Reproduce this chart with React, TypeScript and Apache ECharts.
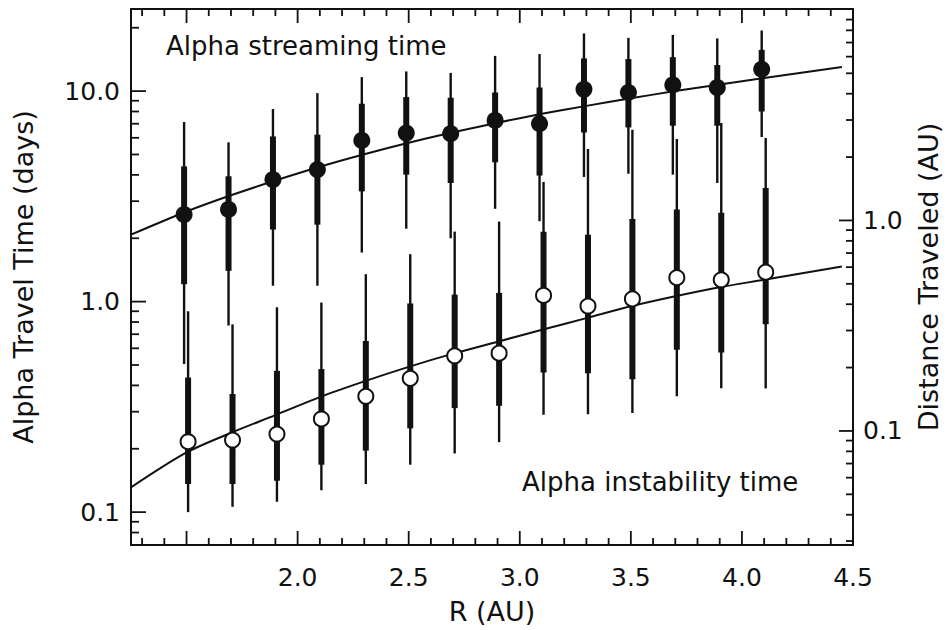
import React, { useEffect, useRef } from 'react';
import * as echarts from 'echarts';

// ---------- data ----------
const R = [1.5, 1.7, 1.9, 2.1, 2.3, 2.5, 2.7, 2.9, 3.1, 3.3, 3.5, 3.7, 3.9, 4.1];

// Alpha streaming time (filled circles), days
const streamMed = [2.59, 2.74, 3.8, 4.24, 5.83, 6.32, 6.28, 7.26, 7.0, 10.2, 9.85, 10.7, 10.4, 12.7];
const streamThinHi = [7.13, 5.71, 8.22, 9.78, 11.65, 12.4, 12.2, 14.7, 15.0, 18.8, 17.9, 18.5, 17.8, 19.4];
const streamThickHi = [4.39, 3.94, 6.09, 6.21, 8.71, 9.37, 9.3, 9.85, 10.4, 14.3, 14.2, 14.5, 13.3, 15.7];
const streamThickLo = [1.21, 1.4, 2.2, 2.32, 3.34, 4.01, 3.66, 4.59, 3.97, 6.36, 6.72, 6.85, 6.85, 8.0];
const streamThinLo = [0.505, 0.77, 1.19, 1.19, 1.71, 2.22, 2.0, 2.76, 2.41, 3.91, 4.05, 4.01, 3.66, 6.05];

// Alpha instability time (open circles), days
const instMed = [0.216, 0.22, 0.235, 0.277, 0.355, 0.432, 0.553, 0.569, 1.07, 0.953, 1.03, 1.3, 1.27, 1.38];
const instThinHi = [0.9, 0.78, 0.94, 0.99, 1.35, 1.68, 2.15, 2.4, 3.7, 5.31, 6.56, 5.92, 7.05, 5.99];
const instThickHi = [0.436, 0.364, 0.469, 0.478, 0.65, 0.98, 1.08, 1.1, 2.15, 2.08, 2.47, 2.74, 2.64, 3.47];
const instThickLo = [0.136, 0.136, 0.141, 0.168, 0.196, 0.25, 0.312, 0.32, 0.46, 0.457, 0.428, 0.59, 0.573, 0.78];
const instThinLo = [0.1, 0.106, 0.112, 0.127, 0.136, 0.168, 0.19, 0.215, 0.29, 0.292, 0.296, 0.355, 0.388, 0.387];

// model curves
const curveR = [1.25, 1.5, 1.7, 1.9, 2.1, 2.3, 2.5, 2.7, 2.9, 3.1, 3.3, 3.5, 3.7, 3.9, 4.1, 4.45];
const streamCurve = [2.08, 2.68, 3.2, 3.76, 4.37, 5.01, 5.68, 6.37, 7.08, 7.8, 8.51, 9.25, 10.0, 10.76, 11.53, 13.03];
const instCurve = [0.131, 0.192, 0.238, 0.289, 0.352, 0.418, 0.49, 0.566, 0.645, 0.735, 0.835, 0.95, 1.06, 1.17, 1.27, 1.47];

// axes
const X_MIN = 1.25;
const X_MAX = 4.5;
const Y_MIN = 0.0698;
const Y_MAX = 24.55;
const DAYS_PER_AU = 2.43; // right axis: distance = time / DAYS_PER_AU
const xLabels = [2.0, 2.5, 3.0, 3.5, 4.0, 4.5];
const leftLabels = [0.1, 1, 10];
const rightLabels = [0.1, 1];
const xMajorTicks = [1.5, 2.0, 2.5, 3.0, 3.5, 4.0, 4.5];
const xMinorTicks = [1.3, 1.4, 1.6, 1.7, 1.8, 1.9, 2.1, 2.2, 2.3, 2.4, 2.6, 2.7, 2.8, 2.9, 3.1, 3.2, 3.3, 3.4, 3.6, 3.7, 3.8, 3.9, 4.1, 4.2, 4.3, 4.4];
const leftMajorTicks = [0.1, 1, 10];
const leftMinorTicks = [0.08, 0.09, 0.2, 0.3, 0.4, 0.5, 0.6, 0.7, 0.8, 0.9, 2, 3, 4, 5, 6, 7, 8, 9, 20];
const rightMajorTicks = [0.1, 1];
const rightMinorTicks = [0.03, 0.04, 0.05, 0.06, 0.07, 0.08, 0.09, 0.2, 0.3, 0.4, 0.5, 0.6, 0.7, 0.8, 0.9, 2, 3, 4, 5, 6, 7, 8, 9];

const FILLED_DX = -0.011;
const OPEN_DX = 0.007;

const INK = '#111111';
const FONT = 'DejaVu Sans';
const MAJOR_LEN = 14;
const MINOR_LEN = 7;

const near = (list: number[], v: number) => list.some((l) => Math.abs(l - v) < 1e-6 * Math.max(1, Math.abs(l)));

function xTickSeries(values: number[], len: number) {
  return {
    type: 'custom',
    silent: true,
    z: 5,
    xAxisIndex: 0,
    yAxisIndex: 0,
    data: values.map((v) => [v, Y_MIN, len]),
    renderItem: (_p: any, api: any) => {
      const v = api.value(0);
      const l = api.value(2);
      const b = api.coord([v, Y_MIN]);
      const t = api.coord([v, Y_MAX]);
      return {
        type: 'group',
        children: [
          { type: 'line', shape: { x1: b[0], y1: b[1], x2: b[0], y2: b[1] - l }, style: { stroke: INK, lineWidth: 1.8 } },
          { type: 'line', shape: { x1: t[0], y1: t[1], x2: t[0], y2: t[1] + l }, style: { stroke: INK, lineWidth: 1.8 } },
        ],
      };
    },
  };
}

function yTickSeries(values: number[], len: number, axisIndex: number) {
  const xAt = axisIndex === 0 ? X_MIN : X_MAX;
  const dir = axisIndex === 0 ? 1 : -1;
  return {
    type: 'custom',
    silent: true,
    z: 5,
    xAxisIndex: 0,
    yAxisIndex: axisIndex,
    data: values.map((v) => [xAt, v, len]),
    renderItem: (_p: any, api: any) => {
      const v = api.value(1);
      const l = api.value(2);
      const p = api.coord([xAt, v]);
      return {
        type: 'line',
        shape: { x1: p[0], y1: p[1], x2: p[0] + dir * l, y2: p[1] },
        style: { stroke: INK, lineWidth: 1.8 },
      };
    },
  };
}

function barSeries(dx: number, lo: number[], qlo: number[], qhi: number[], hi: number[]) {
  return {
    type: 'custom',
    silent: true,
    z: 2,
    data: R.map((r, i) => [r + dx, lo[i], qlo[i], qhi[i], hi[i]]),
    encode: { x: 0, y: [1, 2, 3, 4] },
    renderItem: (_p: any, api: any) => {
      const x = api.value(0);
      const pLo = api.coord([x, api.value(1)]);
      const pQlo = api.coord([x, api.value(2)]);
      const pQhi = api.coord([x, api.value(3)]);
      const pHi = api.coord([x, api.value(4)]);
      return {
        type: 'group',
        children: [
          { type: 'line', shape: { x1: pLo[0], y1: pLo[1], x2: pHi[0], y2: pHi[1] }, style: { stroke: INK, lineWidth: 2.4 } },
          { type: 'rect', shape: { x: pQhi[0] - 3, y: pQhi[1], width: 6, height: pQlo[1] - pQhi[1] }, style: { fill: INK } },
        ],
      };
    },
  };
}

export default function App() {
  const ref = useRef<HTMLDivElement>(null);

  useEffect(() => {
    document.body.style.margin = '0';
    if (!ref.current) return;
    const chart = echarts.init(ref.current, undefined, { renderer: 'svg' });

    const axisLine = { show: true, onZero: false, lineStyle: { color: INK, width: 2 } };
    const labelStyle = { color: INK, fontFamily: FONT, fontSize: 25 };
    const nameStyle = { color: INK, fontFamily: FONT, fontSize: 27 };

    chart.setOption({
      animation: false,
      backgroundColor: '#ffffff',
      textStyle: { fontFamily: FONT },
      grid: { left: 131, right: 93, top: 9, bottom: 84, containLabel: false },
      xAxis: [
        {
          type: 'value',
          position: 'bottom',
          min: X_MIN,
          max: X_MAX,
          interval: 0.25,
          axisLine,
          axisTick: { show: false },
          splitLine: { show: false },
          axisLabel: {
            ...labelStyle,
            margin: 20,
            formatter: (v: number) => (near(xLabels, v) ? v.toFixed(1) : ''),
          },
          name: 'R (AU)',
          nameLocation: 'middle',
          nameGap: 53,
          nameTextStyle: nameStyle,
        },
        {
          type: 'value',
          position: 'top',
          min: X_MIN,
          max: X_MAX,
          interval: 0.25,
          axisLine,
          axisTick: { show: false },
          splitLine: { show: false },
          axisLabel: { show: false },
        },
      ],
      yAxis: [
        {
          type: 'log',
          logBase: 10,
          position: 'left',
          min: Y_MIN,
          max: Y_MAX,
          axisLine,
          axisTick: { show: false },
          minorTick: { show: false },
          splitLine: { show: false },
          axisLabel: {
            ...labelStyle,
            margin: 11,
            formatter: (v: number) => (near(leftLabels, v) ? v.toFixed(1) : ''),
          },
          name: 'Alpha Travel Time (days)',
          nameLocation: 'middle',
          nameRotate: 90,
          nameGap: 94,
          nameTextStyle: nameStyle,
        },
        {
          type: 'log',
          logBase: 10,
          position: 'right',
          min: Y_MIN / DAYS_PER_AU,
          max: Y_MAX / DAYS_PER_AU,
          axisLine,
          axisTick: { show: false },
          minorTick: { show: false },
          splitLine: { show: false },
          axisLabel: {
            ...labelStyle,
            margin: 10,
            formatter: (v: number) => (near(rightLabels, v) ? v.toFixed(1) : ''),
          },
          name: 'Distance Traveled (AU)',
          nameLocation: 'middle',
          nameRotate: 90,
          nameGap: 62,
          nameTextStyle: nameStyle,
        },
      ],
      graphic: [
        {
          type: 'text',
          x: 166,
          y: 46,
          silent: true,
          style: { text: 'Alpha streaming time', fill: INK, fontFamily: FONT, fontSize: 26, verticalAlign: 'middle', align: 'left' },
        },
        {
          type: 'text',
          x: 522,
          y: 482,
          silent: true,
          style: { text: 'Alpha instability time', fill: INK, fontFamily: FONT, fontSize: 26, verticalAlign: 'middle', align: 'left' },
        },
      ],
      series: [
        xTickSeries(xMajorTicks, MAJOR_LEN),
        xTickSeries(xMinorTicks, MINOR_LEN),
        yTickSeries(leftMajorTicks, MAJOR_LEN + 1, 0),
        yTickSeries(leftMinorTicks, MINOR_LEN + 1, 0),
        yTickSeries(rightMajorTicks, MAJOR_LEN, 1),
        yTickSeries(rightMinorTicks, MINOR_LEN, 1),
        barSeries(OPEN_DX, instThinLo, instThickLo, instThickHi, instThinHi),
        barSeries(FILLED_DX, streamThinLo, streamThickLo, streamThickHi, streamThinHi),
        {
          type: 'line',
          z: 3,
          silent: true,
          smooth: 0.3,
          symbol: 'none',
          lineStyle: { color: INK, width: 2 },
          data: curveR.map((r, i) => [r, streamCurve[i]]),
        },
        {
          type: 'line',
          z: 3,
          silent: true,
          smooth: 0.3,
          symbol: 'none',
          lineStyle: { color: INK, width: 2 },
          data: curveR.map((r, i) => [r, instCurve[i]]),
        },
        {
          type: 'scatter',
          z: 4,
          silent: true,
          symbol: 'circle',
          symbolSize: 17,
          itemStyle: { color: INK, opacity: 1 },
          data: R.map((r, i) => [r + FILLED_DX, streamMed[i]]),
        },
        {
          type: 'scatter',
          z: 4,
          silent: true,
          symbol: 'circle',
          symbolSize: 15,
          itemStyle: { color: '#ffffff', borderColor: INK, borderWidth: 2, opacity: 1 },
          data: R.map((r, i) => [r + OPEN_DX, instMed[i]]),
        },
      ],
    });

    return () => chart.dispose();
  }, []);

  return <div ref={ref} style={{ width: 950, height: 630 }} />;
}
